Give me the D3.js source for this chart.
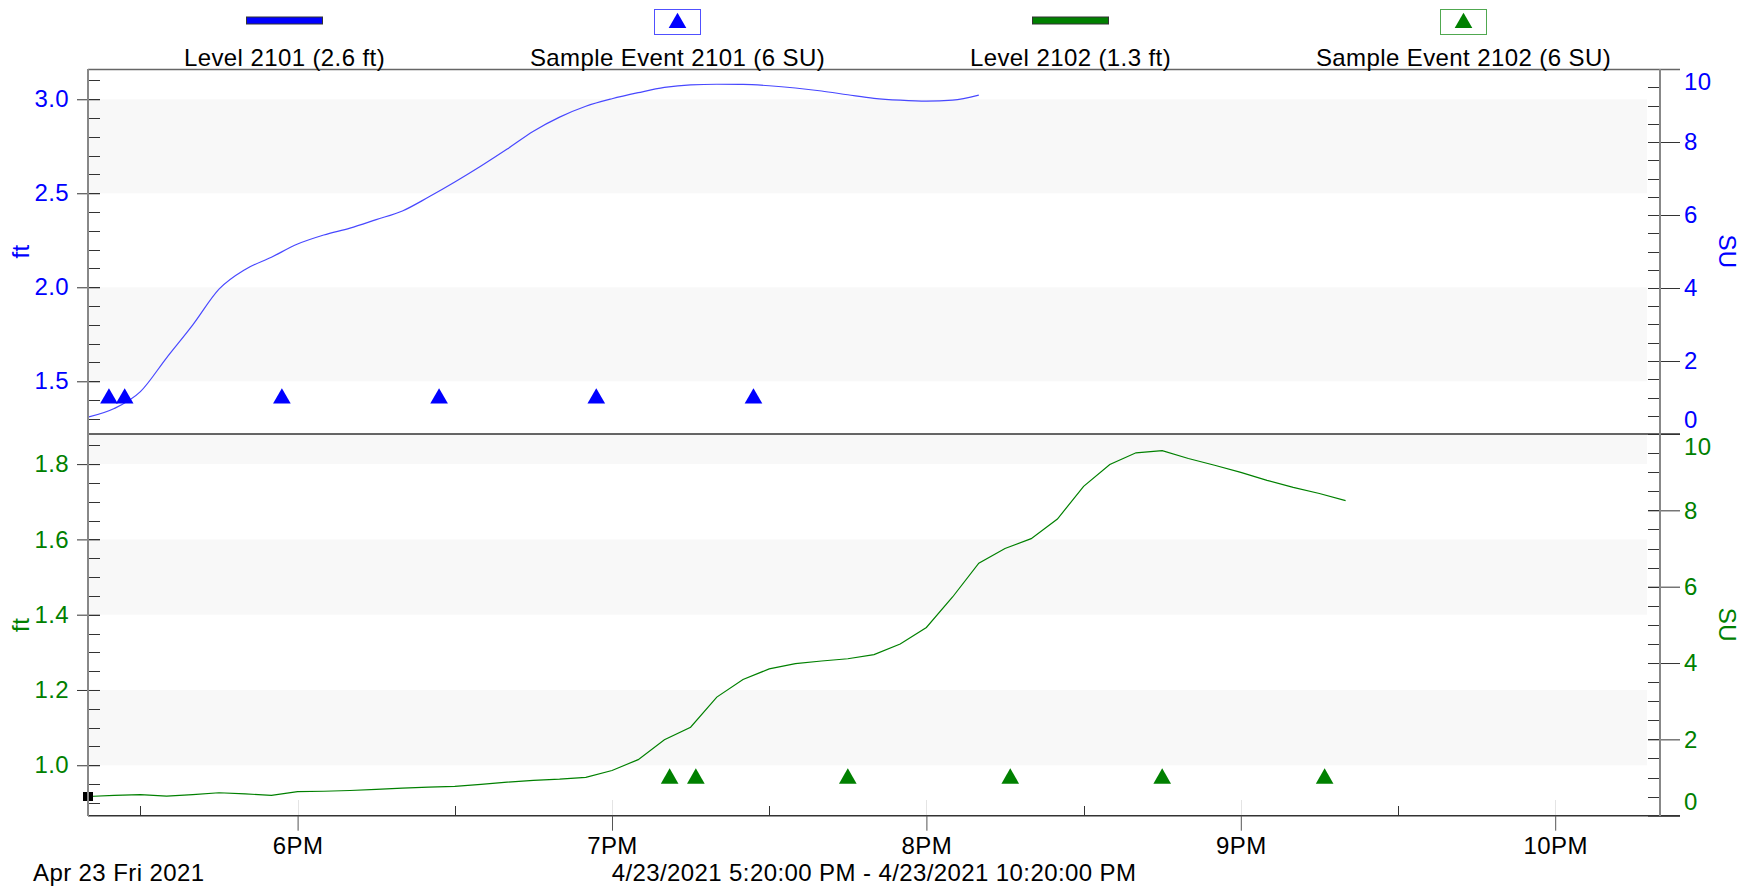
<!DOCTYPE html>
<html>
<head>
<meta charset="utf-8">
<script src="https://cdn.jsdelivr.net/npm/d3@7"></script>
<style>
  body { margin: 0; background: #fff; }
  text { font-family: Arial, "Liberation Sans", sans-serif; letter-spacing: 0.4px; }
</style>
</head>
<body>
<div id="chart"></div>
<script>
// ---- data ----
const day = "2021-04-23";

const levelTimes2101 = ["17:20","17:25","17:30","17:35","17:40","17:45","17:50","17:55","18:00","18:05",
  "18:10","18:15","18:20","18:25","18:30","18:35","18:40","18:45","18:50","18:55",
  "19:00","19:05","19:10","19:15","19:20","19:25","19:30","19:35","19:40","19:45",
  "19:50","19:55","20:00","20:05","20:10"];
const level2101 = [1.309, 1.355, 1.445, 1.625, 1.80, 1.99, 2.095, 2.16, 2.23, 2.278,
  2.315, 2.36, 2.406, 2.48, 2.56, 2.645, 2.735, 2.83, 2.905, 2.963,
  3.003, 3.035, 3.063, 3.077, 3.08, 3.079, 3.072, 3.06, 3.044, 3.024,
  3.005, 2.995, 2.99, 2.995, 3.022];

const levelTimes2102 = ["17:20","17:25","17:30","17:35","17:40","17:45","17:50","17:55","18:00","18:05",
  "18:10","18:15","18:20","18:25","18:30","18:35","18:40","18:45","18:50","18:55",
  "19:00","19:05","19:10","19:15","19:20","19:25","19:30","19:35","19:40","19:45",
  "19:50","19:55","20:00","20:05","20:10","20:15","20:20","20:25","20:30","20:35",
  "20:40","20:45","20:50","20:55","21:00","21:05","21:10","21:15","21:20"];
const level2102 = [0.917, 0.920, 0.922, 0.918, 0.922, 0.927, 0.924, 0.920, 0.930, 0.931,
  0.933, 0.936, 0.939, 0.942, 0.944, 0.949, 0.955, 0.960, 0.963, 0.968,
  0.986, 1.015, 1.068, 1.101, 1.181, 1.228, 1.256, 1.270, 1.277, 1.283,
  1.294, 1.322, 1.366, 1.447, 1.537, 1.576, 1.602, 1.654, 1.741, 1.799,
  1.830, 1.836, 1.815, 1.797, 1.778, 1.757, 1.738, 1.722, 1.703];

const sampleTimes2101 = ["17:24","17:27","17:57","18:27","18:57","19:27"];
const sample2101 = [1, 1, 1, 1, 1, 1];
const sampleTimes2102 = ["19:11","19:16","19:45","20:16","20:45","21:16"];
const sample2102 = [1, 1, 1, 1, 1, 1];

const legendLabels = ["Level 2101 (2.6 ft)", "Sample Event 2101 (6 SU)", "Level 2102 (1.3 ft)", "Sample Event 2102 (6 SU)"];
const ftTicksTop = [1.5, 2.0, 2.5, 3.0];
const ftTicksBottom = [1.0, 1.2, 1.4, 1.6, 1.8];
const bandsTop = [[1.5, 2.0], [2.5, 3.0]];
const bandsBottom = [[1.0, 1.2], [1.4, 1.6], [1.8, 2.0]];
const suTicks = [0, 2, 4, 6, 8, 10];
const dateLabel = "Apr 23 Fri 2021";
const rangeLabel = "4/23/2021 5:20:00 PM - 4/23/2021 10:20:00 PM";

// ---- layout ----
const width = 1741, height = 887;
const left = 88, right = 1660;
const blue = "#0000ff", green = "#008000";
const fontSize = "24px";
const parse = d3.timeParse("%Y-%m-%d %H:%M");
const t = s => parse(day + " " + s);

const svg = d3.select("#chart").append("svg")
  .attr("width", width)
  .attr("height", height);

const x = d3.scaleTime()
  .domain([t("17:20"), t("22:20")])
  .range([left, right]);

const panels = [
  { top: 69, bottom: 434, ft: [1.2197, 3.161], ftTicks: ftTicksTop, minorStep: 0.1, bands: bandsTop,
    color: blue, lineColor: "#4848ff", times: levelTimes2101, values: level2101, curve: d3.curveMonotoneX,
    sTimes: sampleTimes2101, sValues: sample2101 },
  { top: 434, bottom: 815.7, ft: [0.866, 1.88], ftTicks: ftTicksBottom, minorStep: 0.05, bands: bandsBottom,
    color: green, lineColor: green, times: levelTimes2102, values: level2102, curve: d3.curveLinear,
    sTimes: sampleTimes2102, sValues: sample2102 }
];

const tri = d3.symbol().type(d3.symbolTriangle).size(135);

panels.forEach((p, pi) => {
  const y = d3.scaleLinear().domain(p.ft).range([p.bottom, p.top]);
  const su = d3.scaleLinear().domain([0, 10]).range([p.bottom, p.top]);
  const g = svg.append("g");

  // background bands
  g.selectAll(".band")
    .data(p.bands)
    .enter().append("rect")
    .attr("x", left)
    .attr("width", 1647 - left)
    .attr("y", d => y(Math.min(d[1], p.ft[1])))
    .attr("height", d => y(d[0]) - y(Math.min(d[1], p.ft[1])))
    .attr("fill", "#f8f8f8");

  // left axis: minor + major ticks
  const minor = d3.range(Math.ceil(p.ft[0] / p.minorStep) * p.minorStep, p.ft[1], p.minorStep);
  g.append("g")
    .selectAll("line")
    .data(minor)
    .enter().append("line")
    .attr("x1", left).attr("x2", left + 12)
    .attr("y1", d => Math.round(y(d)) + 0.5).attr("y2", d => Math.round(y(d)) + 0.5)
    .attr("stroke", "#333");

  const la = g.append("g")
    .attr("transform", "translate(" + left + ",0)")
    .call(d3.axisLeft(y).tickValues(p.ftTicks).tickFormat(d3.format(".1f")).tickSize(11).tickPadding(6));
  la.select(".domain").remove();
  la.selectAll(".tick line").attr("x2", 12).attr("x1", -11).attr("stroke", "#333");
  la.selectAll(".tick text").attr("fill", p.color).style("font-size", fontSize).attr("dx", "-2");

  // right axis
  const suMinor = d3.range(0.5, 10, 0.5);
  g.append("g")
    .selectAll("line")
    .data(suMinor)
    .enter().append("line")
    .attr("x1", right - 12).attr("x2", right)
    .attr("y1", d => Math.round(su(d)) + 0.5).attr("y2", d => Math.round(su(d)) + 0.5)
    .attr("stroke", "#333");

  const ra = g.append("g")
    .attr("transform", "translate(" + right + ",0)")
    .call(d3.axisRight(su).tickValues(suTicks).tickSize(20).tickPadding(4));
  ra.select(".domain").remove();
  ra.selectAll(".tick line").attr("x1", -12).attr("stroke", "#333");
  // edge labels pushed inside the panel, like the reference
  ra.selectAll(".tick text")
    .attr("fill", p.color)
    .style("font-size", fontSize)
    .attr("y", d => d === 10 ? 13 : d === 0 ? -14 : 0);

  // axis titles
  g.append("text")
    .attr("transform", "translate(29," + (p.top + p.bottom) / 2 + ") rotate(-90)")
    .attr("text-anchor", "middle")
    .attr("fill", p.color)
    .style("font-size", fontSize)
    .text("ft");
  g.append("text")
    .attr("transform", "translate(1719," + (p.top + p.bottom) / 2 + ") rotate(90)")
    .attr("text-anchor", "middle")
    .attr("fill", p.color)
    .style("font-size", fontSize)
    .text("SU");

  // level line
  const line = d3.line()
    .x(d => x(t(d.time)))
    .y(d => y(d.value))
    .curve(p.curve);
  const pts = p.times.map((s, i) => ({ time: s, value: p.values[i] }));
  g.append("path")
    .datum(pts)
    .attr("fill", "none")
    .attr("stroke", p.lineColor)
    .attr("stroke-width", 1.2)
    .attr("d", line);

  // sample events
  g.selectAll(".sample")
    .data(p.sTimes.map((s, i) => ({ time: s, value: p.sValues[i] })))
    .enter().append("path")
    .attr("transform", d => "translate(" + x(t(d.time)) + "," + (su(d.value) + 1) + ")")
    .attr("d", tri)
    .attr("fill", p.color);

  if (pi === 1) {
    // cursor marker at first point
    g.append("rect")
      .attr("x", x(t(pts[0].time)) - 5)
      .attr("y", y(pts[0].value) - 4.5)
      .attr("width", 10).attr("height", 9)
      .attr("fill", "#000");
  }
});

// frame lines
svg.append("line").attr("x1", left).attr("x2", 1680).attr("y1", 69.5).attr("y2", 69.5).attr("stroke", "#666").attr("stroke-width", 1.5);
svg.append("line").attr("x1", left).attr("x2", 1680).attr("y1", 434).attr("y2", 434).attr("stroke", "#333").attr("stroke-width", 1.5);
svg.append("line").attr("x1", left).attr("x2", 1680).attr("y1", 815.7).attr("y2", 815.7).attr("stroke", "#333").attr("stroke-width", 1.5);
[left, right].forEach(xx => {
  svg.append("line").attr("x1", xx).attr("x2", xx).attr("y1", 69).attr("y2", 816).attr("stroke", "#888").attr("stroke-width", 2);
});

// x axis
const hours = x.ticks(d3.timeHour.every(1));
const halfHours = x.ticks(d3.timeMinute.every(30)).filter(d => d.getMinutes() === 30);

svg.append("g").selectAll("line")
  .data(hours)
  .enter().append("line")
  .attr("x1", d => Math.round(x(d)) + 0.5).attr("x2", d => Math.round(x(d)) + 0.5)
  .attr("y1", 800).attr("y2", 815)
  .attr("stroke", "#e4e4e4");

svg.append("g").selectAll("line")
  .data(halfHours)
  .enter().append("line")
  .attr("x1", d => Math.round(x(d)) + 0.5).attr("x2", d => Math.round(x(d)) + 0.5)
  .attr("y1", 806).attr("y2", 815)
  .attr("stroke", "#333");

const xa = svg.append("g")
  .attr("transform", "translate(0,815.7)")
  .call(d3.axisBottom(x).tickValues(hours).tickFormat(d3.timeFormat("%-I%p")).tickSize(15).tickPadding(6));
xa.select(".domain").remove();
xa.selectAll(".tick line").attr("stroke", "#555");
xa.selectAll(".tick text").attr("fill", "#000").style("font-size", fontSize);

svg.append("text")
  .attr("x", 33).attr("y", 881)
  .style("font-size", fontSize)
  .text(dateLabel);
svg.append("text")
  .attr("x", (left + right) / 2).attr("y", 881)
  .attr("text-anchor", "middle")
  .style("font-size", fontSize)
  .text(rangeLabel);

// legend
const lx = d3.scaleBand().domain(legendLabels).range([left, right]);
const legend = svg.append("g").selectAll("g")
  .data(legendLabels)
  .enter().append("g")
  .attr("transform", d => "translate(" + (lx(d) + lx.bandwidth() / 2) + ",0)");

legend.append("text")
  .attr("y", 66)
  .attr("text-anchor", "middle")
  .style("font-size", fontSize)
  .text(d => d);

legend.filter((d, i) => i % 2 === 0).append("rect")
  .attr("x", -38).attr("y", 17)
  .attr("width", 76).attr("height", 7)
  .attr("fill", (d, i) => i === 0 ? blue : green)
  .attr("stroke", "#333").attr("stroke-width", 1);

const boxes = legend.filter((d, i) => i % 2 === 1);
boxes.append("rect")
  .attr("x", -23).attr("y", 9.5)
  .attr("width", 46).attr("height", 25)
  .attr("fill", "#fff")
  .attr("stroke", (d, i) => i === 0 ? "#5050ff" : "#50a850");
boxes.append("path")
  .attr("transform", "translate(0,23)")
  .attr("d", tri)
  .attr("fill", (d, i) => i === 0 ? blue : green);
</script>
</body>
</html>
